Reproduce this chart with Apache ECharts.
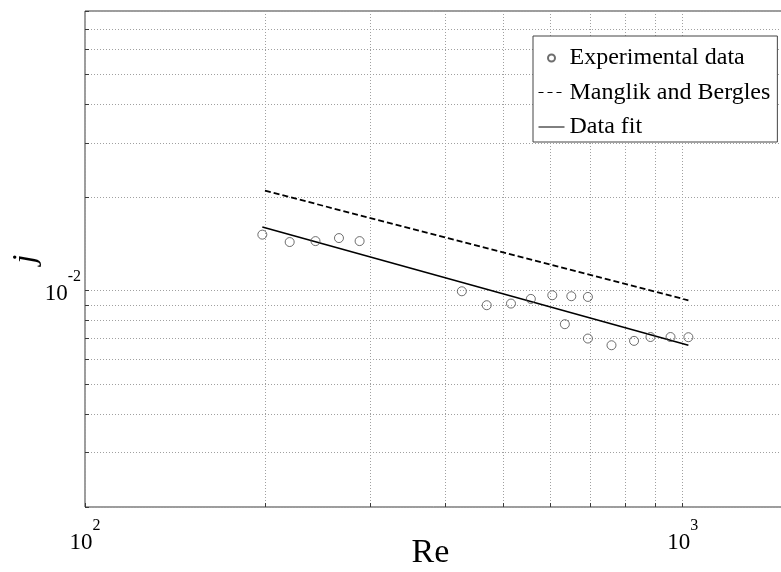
<!DOCTYPE html>
<html>
<head>
<meta charset="utf-8">
<title>j vs Re</title>
<script src="https://cdn.jsdelivr.net/npm/echarts@6/dist/echarts.min.js"></script>
<style>
  html, body { margin: 0; padding: 0; background: #ffffff; }
  #chart { width: 781px; height: 572px; }
</style>
</head>
<body>
<div id="chart"></div>
<script>
// Measured Colburn j-factor against Reynolds number
const reExp = [198, 220, 243, 266, 288, 427, 470, 516, 557, 605, 651, 694, 635, 694, 760, 829, 883, 954, 1022];
const jExp = [0.01516, 0.01435, 0.01445, 0.01478, 0.01445, 0.00995, 0.00897, 0.00908, 0.00940, 0.00966,
              0.00959, 0.00954, 0.00779, 0.00700, 0.00666, 0.00688, 0.00708, 0.00708, 0.00707];

// Manglik and Bergles correlation (end points of the straight log-log segment)
const reMB = [200, 1022];
const jMB = [0.02102, 0.00930];

// Power-law fit of the measurements
const reFit = [198, 1022];
const jFit = [0.01604, 0.00666];

// Log-axis ticks (grid lines at every decade subdivision) and labelled decades
const xTicks = [100, 200, 300, 400, 500, 600, 700, 800, 900, 1000];
const xLabelTicks = [100, 1000];
const yTicks = [0.002, 0.003, 0.004, 0.005, 0.006, 0.007, 0.008, 0.009, 0.01, 0.02, 0.03, 0.04, 0.05, 0.06, 0.07, 0.08];
const yLabelTicks = [0.01];

const SERIF = '"Liberation Serif", "Times New Roman", "DejaVu Serif", serif';

function pairs(xs, ys) {
  return xs.map((x, i) => [x, ys[i]]);
}

// "10" with the decade exponent raised as a superscript
function powerLabel(v) {
  const e = Math.round(Math.log10(v));
  return '{h| }{b|10}{s|' + e + '}';
}

const powRich = {
  h: { fontFamily: SERIF, fontSize: 1, lineHeight: 36, width: 0 },
  b: { fontFamily: SERIF, fontSize: 23, color: '#000', lineHeight: 24, verticalAlign: 'bottom' },
  s: { fontFamily: SERIF, fontSize: 16, color: '#000', lineHeight: 16, verticalAlign: 'top' }
};

const gridLine = { show: true, lineStyle: { color: '#a0a0a0', width: 1, type: [1, 2] } };

const chart = echarts.init(document.getElementById('chart'), null, { renderer: 'canvas' });

chart.setOption({
  animation: false,
  backgroundColor: '#ffffff',
  grid: {
    left: 85, top: 11, width: 703, height: 496,
    containLabel: false, outerBoundsMode: 'none',
    show: true, borderColor: '#3a3a3a', borderWidth: 1, backgroundColor: 'transparent'
  },
  xAxis: {
    type: 'log', logBase: 10, min: 100, max: 1500,
    name: 'Re', nameLocation: 'middle', nameGap: 29, nameMoveOverlap: false,
    nameTextStyle: { fontFamily: SERIF, fontSize: 34, color: '#000', padding: [0, 12, 0, 0] },
    axisLine: { show: false },
    axisTick: { show: true, inside: true, length: 4, customValues: xTicks, lineStyle: { color: '#3a3a3a' } },
    axisLabel: {
      show: true, customValues: xLabelTicks, margin: 11,
      fontFamily: SERIF, fontSize: 23, color: '#000',
      formatter: powerLabel, rich: powRich
    },
    splitLine: gridLine,
    minorTick: { show: false }, minorSplitLine: { show: false }
  },
  yAxis: {
    type: 'log', logBase: 10, min: 0.002, max: 0.08,
    name: 'j', nameLocation: 'middle', nameGap: 43, nameRotate: 90, nameMoveOverlap: false,
    nameTextStyle: { fontFamily: SERIF, fontSize: 32, fontStyle: 'italic', color: '#000' },
    axisLine: { show: false },
    axisTick: { show: true, inside: true, length: 4, customValues: yTicks, lineStyle: { color: '#3a3a3a' } },
    axisLabel: {
      show: true, customValues: yLabelTicks, margin: 4, padding: [0, 0, 7, 0],
      fontFamily: SERIF, fontSize: 23, color: '#000',
      formatter: powerLabel, rich: powRich
    },
    splitLine: gridLine,
    minorTick: { show: false }, minorSplitLine: { show: false }
  },
  legend: {
    orient: 'vertical', left: 533, top: 36,
    padding: [10, 7, 3, 5], itemGap: 10.5,
    itemWidth: 26, itemHeight: 7,
    backgroundColor: '#ffffff', borderColor: '#444', borderWidth: 1, borderRadius: 0,
    textStyle: { fontFamily: SERIF, fontSize: 24, color: '#000', lineHeight: 24 },
    data: [
      { name: 'Experimental data' },
      { name: 'Manglik and Bergles', itemStyle: { opacity: 0 }, lineStyle: { width: 1, type: [5, 4] } },
      { name: 'Data fit', itemStyle: { opacity: 0 }, lineStyle: { width: 1 } }
    ]
  },
  series: [
    {
      name: 'Experimental data', type: 'scatter',
      data: pairs(reExp, jExp),
      symbol: 'circle', symbolSize: 9,
      itemStyle: { color: 'rgba(255,255,255,0)', borderColor: '#4a4a4a', borderWidth: 1 },
      z: 3
    },
    {
      name: 'Manglik and Bergles', type: 'line',
      data: pairs(reMB, jMB),
      symbol: 'none', smooth: false,
      lineStyle: { color: '#000', width: 1.8, type: [6, 3] },
      itemStyle: { color: '#000' },
      z: 2
    },
    {
      name: 'Data fit', type: 'line',
      data: pairs(reFit, jFit),
      symbol: 'none', smooth: false,
      lineStyle: { color: '#000', width: 1.6, type: 'solid' },
      itemStyle: { color: '#000' },
      z: 2
    }
  ]
});
</script>
</body>
</html>
